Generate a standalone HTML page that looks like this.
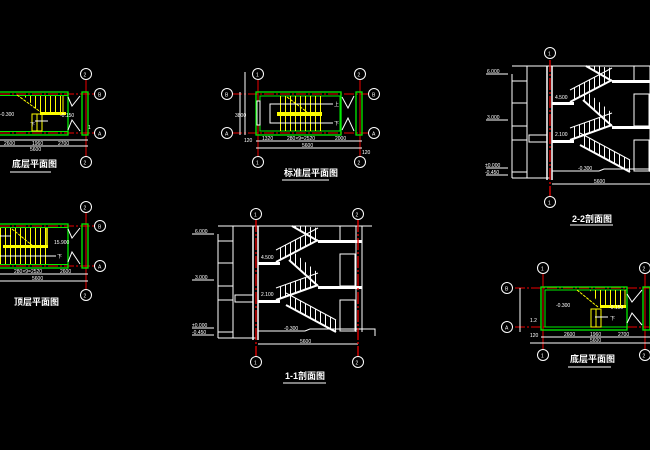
<!DOCTYPE html>
<html><head><meta charset="utf-8"><style>
html,body{margin:0;padding:0;background:#000;width:650px;height:450px;overflow:hidden}
svg{display:block}
text{font-family:"Liberation Sans","Noto Sans CJK SC",sans-serif;fill:#fff}
.t{font-size:9px;font-weight:bold}
.s{font-size:5px}
</style></head><body>
<svg width="650" height="450" viewBox="0 0 650 450" xmlns="http://www.w3.org/2000/svg">
<defs>
<pattern id="bal" width="5" height="10" patternUnits="userSpaceOnUse"><rect x="0" y="0" width="1" height="10" fill="#fff"/></pattern>
<pattern id="yel" width="5" height="10" patternUnits="userSpaceOnUse"><rect x="0" y="0" width="1" height="10" fill="#ff0"/></pattern>
<g id="circ"><circle r="5.5" fill="#000" stroke="#fff" stroke-width="1"/></g>
<!-- section body (1-1 coordinates) -->
<g id="sec" fill="none">
 <line x1="218" y1="226" x2="372" y2="226" stroke="#fff"/>
 <line x1="233" y1="226" x2="233" y2="338" stroke="#fff"/>
 <line x1="253" y1="226" x2="253" y2="340" stroke="#fff" stroke-width="1.5"/>
 <line x1="258" y1="226" x2="258" y2="340" stroke="#fff" stroke-width="1.5"/>
 <line x1="356" y1="226" x2="356" y2="332" stroke="#fff"/>
 <line x1="362" y1="226" x2="362" y2="332" stroke="#fff"/>
 <!-- landings -->
 <rect x="318" y="240" width="44" height="3" fill="#fff"/>
 <rect x="318" y="286" width="44" height="3" fill="#fff"/>
 <rect x="258" y="262" width="22" height="3" fill="#fff"/>
 <rect x="258" y="300" width="22" height="3" fill="#fff"/>
 <rect x="235" y="295" width="18" height="7" fill="none" stroke="#fff"/>
 <!-- doors -->
 <rect x="340" y="254" width="15" height="32" stroke="#fff"/>
 <rect x="340" y="300" width="15" height="31" stroke="#fff"/>
 <line x1="340" y1="226" x2="340" y2="240" stroke="#fff"/>
 <!-- flights -->
 <polygon points="292,226 318,240 318,228 302,226" fill="url(#bal)"/>
 <line x1="292" y1="226" x2="318" y2="241" stroke="#fff" stroke-width="2"/>
 <polygon points="276,262 318,240 318,228 276,250" fill="url(#bal)"/>
 <line x1="276" y1="262" x2="318" y2="240" stroke="#fff" stroke-width="2"/>
 <line x1="276" y1="250" x2="318" y2="228" stroke="#fff"/>
 <polygon points="289,260 318,285 318,273 289,248" fill="url(#bal)"/>
 <line x1="289" y1="260" x2="318" y2="286" stroke="#fff" stroke-width="2"/>
 <polygon points="276,300 318,285 318,273 276,288" fill="url(#bal)"/>
 <line x1="276" y1="300" x2="318" y2="285" stroke="#fff" stroke-width="2"/>
 <line x1="276" y1="288" x2="318" y2="273" stroke="#fff"/>
 <polygon points="286,305 336,332 336,320 286,293" fill="url(#bal)"/>
 <line x1="286" y1="305" x2="336" y2="332" stroke="#fff" stroke-width="2"/>
 <line x1="286" y1="293" x2="336" y2="320" stroke="#fff"/>
 <!-- ground -->
 <polyline points="258,331 305,331 310,329 375,329 375,336" stroke="#fff"/>
 <line x1="218" y1="338" x2="256" y2="338" stroke="#fff"/>
 <line x1="258" y1="344" x2="358" y2="344" stroke="#fff"/>
 <!-- level dims left -->
 <line x1="218" y1="234" x2="218" y2="338" stroke="#fff"/>
 <line x1="218" y1="241" x2="233" y2="241" stroke="#fff"/>
 <line x1="218" y1="263" x2="233" y2="263" stroke="#fff"/>
 <line x1="218" y1="286" x2="233" y2="286" stroke="#fff"/>
 <line x1="218" y1="300" x2="233" y2="300" stroke="#fff"/>
 <line x1="218" y1="332" x2="233" y2="332" stroke="#fff"/>
 <line x1="192" y1="234" x2="214" y2="234" stroke="#fff"/>
 <line x1="192" y1="280" x2="214" y2="280" stroke="#fff"/>
 <line x1="192" y1="328" x2="214" y2="328" stroke="#fff"/>
 <line x1="192" y1="335" x2="214" y2="335" stroke="#fff"/>
 <!-- red axes -->
 <line x1="256" y1="220" x2="256" y2="356" stroke="#e00" stroke-width="1.3" stroke-dasharray="12,2,2,2"/>
 <line x1="358" y1="220" x2="358" y2="356" stroke="#e00" stroke-width="1.3" stroke-dasharray="12,2,2,2"/>
</g>
</defs>

<!-- ========== TOP-LEFT PLAN 底层 ========== -->
<g fill="none">
 <line x1="0" y1="94" x2="95" y2="94" stroke="#e00" stroke-dasharray="10,2,2,2"/>
 <line x1="0" y1="133" x2="95" y2="133" stroke="#e00" stroke-dasharray="10,2,2,2"/>
 <line x1="86" y1="79" x2="86" y2="157" stroke="#e00"/>
 <rect x="-5" y="92" width="73" height="43" stroke="#0e0" stroke-width="1.3"/>
 <rect x="-5" y="95.5" width="73" height="36" stroke="#0e0"/>
 <rect x="82" y="92" width="6" height="43" stroke="#0e0" stroke-width="1.3"/>
 <polygon points="24,96 63,96 63,113 40,113" fill="url(#yel)"/>
 <line x1="17" y1="95" x2="42" y2="113" stroke="#ff0" stroke-dasharray="3,1"/>
 <rect x="40" y="112" width="26" height="3" fill="#ff0"/>
 <line x1="63" y1="96" x2="63" y2="113" stroke="#ff0"/>
 <rect x="32" y="114" width="10" height="17" stroke="#ff0"/>
 <line x1="37" y1="114" x2="37" y2="131" stroke="#ff0"/>
 <line x1="35" y1="121" x2="48" y2="121" stroke="#fff"/>
 <polyline points="68,97 72,106 80,96" stroke="#fff"/>
 <polyline points="68,130 72,120 80,131" stroke="#fff"/>
 <line x1="0" y1="140" x2="88" y2="140" stroke="#fff"/>
 <line x1="0" y1="146" x2="88" y2="146" stroke="#fff"/>
 <text x="30" y="126" class="s">下</text>
 <text x="0" y="116" class="s">-0.300</text>
 <text x="60" y="117" class="s">-0.150</text>
 <text x="4" y="145" class="s">2600</text>
 <text x="32" y="145" class="s">1960</text>
 <text x="58" y="145" class="s">2700</text>
 <text x="30" y="151" class="s">5600</text>
 <text x="88" y="129" class="s">1</text>
 <text x="12" y="167" class="t">底层平面图</text>
 <line x1="10" y1="172" x2="51" y2="172" stroke="#fff"/>
</g>
<use href="#circ" x="86" y="74"/><text x="83.5" y="76.5" class="s">2</text>
<use href="#circ" x="100" y="94"/><text x="98" y="96.5" class="s">B</text>
<use href="#circ" x="100" y="133"/><text x="98" y="135.5" class="s">A</text>
<use href="#circ" x="86" y="162"/><text x="83.5" y="164.5" class="s">2</text>

<!-- ========== BOTTOM-LEFT PLAN 顶层 ========== -->
<g fill="none">
 <line x1="0" y1="226" x2="95" y2="226" stroke="#e00" stroke-dasharray="10,2,2,2"/>
 <line x1="0" y1="266" x2="95" y2="266" stroke="#e00" stroke-dasharray="10,2,2,2"/>
 <line x1="86" y1="212" x2="86" y2="290" stroke="#e00"/>
 <rect x="-5" y="224" width="73" height="44" stroke="#0e0" stroke-width="1.3"/>
 <rect x="-5" y="227.5" width="73" height="37" stroke="#0e0"/>
 <rect x="82" y="224" width="6" height="44" stroke="#0e0" stroke-width="1.3"/>
 <rect x="0" y="228" width="47" height="36" fill="url(#yel)"/>
 <rect x="3" y="245" width="45" height="3" fill="#ff0"/>
 <line x1="47" y1="228" x2="47" y2="248" stroke="#ff0" stroke-width="1.5"/>
 <line x1="12" y1="229" x2="33" y2="246" stroke="#ff0" stroke-dasharray="3,1"/>
 <line x1="0" y1="236" x2="11" y2="236" stroke="#fff"/>
 <line x1="0" y1="256" x2="56" y2="256" stroke="#fff"/>
 <polyline points="68,229 72,238 80,228" stroke="#fff"/>
 <polyline points="68,262 72,252 80,264" stroke="#fff"/>
 <line x1="0" y1="274" x2="88" y2="274" stroke="#fff"/>
 <line x1="0" y1="281" x2="88" y2="281" stroke="#fff"/>
 <text x="57" y="258" class="s">下</text>
 <text x="54" y="244" class="s">15.900</text>
 <text x="14" y="273" class="s">280×9=2520</text>
 <text x="60" y="273" class="s">2600</text>
 <text x="32" y="280" class="s">5600</text>
 <text x="14" y="305" class="t">顶层平面图</text>
</g>
<use href="#circ" x="86" y="207"/><text x="83.5" y="209.5" class="s">2</text>
<use href="#circ" x="100" y="226"/><text x="98" y="228.5" class="s">B</text>
<use href="#circ" x="100" y="266"/><text x="98" y="268.5" class="s">A</text>
<use href="#circ" x="86" y="295"/><text x="83.5" y="297.5" class="s">2</text>

<!-- ========== STANDARD PLAN 标准层 ========== -->
<g fill="none">
 <line x1="232" y1="94" x2="369" y2="94" stroke="#e00" stroke-dasharray="10,2,2,2"/>
 <line x1="232" y1="133" x2="369" y2="133" stroke="#e00" stroke-dasharray="10,2,2,2"/>
 <line x1="258" y1="79" x2="258" y2="157" stroke="#e00"/>
 <line x1="360" y1="79" x2="360" y2="157" stroke="#e00"/>
 <rect x="256" y="92" width="85" height="43" stroke="#0e0" stroke-width="1.3"/>
 <rect x="260" y="96" width="80" height="35" stroke="#0e0"/>
 <rect x="356" y="92" width="6" height="43" stroke="#0e0" stroke-width="1.3"/>
 <rect x="257" y="101" width="3" height="24" fill="#000" stroke="#fff"/>
 <rect x="277" y="96" width="45" height="35" fill="url(#yel)"/>
 <rect x="277" y="112" width="45" height="4" fill="#ff0"/>
 <line x1="287" y1="97" x2="307" y2="112" stroke="#ff0" stroke-dasharray="3,1"/>
 <polyline points="333,104 270,104 270,123 333,123" stroke="#fff"/>
 <polyline points="342,97 348,108 354,96" stroke="#fff"/>
 <polyline points="342,130 348,118 354,131" stroke="#fff"/>
 <line x1="240" y1="92" x2="240" y2="135" stroke="#fff"/>
 <line x1="245" y1="72" x2="245" y2="135" stroke="#fff"/>
 <line x1="256" y1="141" x2="362" y2="141" stroke="#fff"/>
 <line x1="256" y1="148" x2="362" y2="148" stroke="#fff"/>
 <text x="334" y="106" class="s">上</text>
 <text x="334" y="125" class="s">下</text>
 <text x="244" y="142" class="s">120</text>
 <text x="262" y="140" class="s">1320</text>
 <text x="287" y="140" class="s">280×9=2520</text>
 <text x="335" y="140" class="s">2000</text>
 <text x="302" y="147" class="s">5600</text>
 <text x="362" y="154" class="s">120</text>
 <text x="235" y="117" class="s">3800</text>
 <text x="284" y="176" class="t">标准层平面图</text>
 <line x1="282" y1="180" x2="329" y2="180" stroke="#fff"/>
</g>
<use href="#circ" x="258" y="74"/><text x="256" y="76.5" class="s">1</text>
<use href="#circ" x="360" y="74"/><text x="357.5" y="76.5" class="s">2</text>
<use href="#circ" x="227" y="94"/><text x="225" y="96.5" class="s">B</text>
<use href="#circ" x="374" y="94"/><text x="372" y="96.5" class="s">B</text>
<use href="#circ" x="227" y="133"/><text x="225" y="135.5" class="s">A</text>
<use href="#circ" x="374" y="133"/><text x="372" y="135.5" class="s">A</text>
<use href="#circ" x="258" y="162"/><text x="256" y="164.5" class="s">1</text>
<use href="#circ" x="360" y="162"/><text x="357.5" y="164.5" class="s">2</text>

<!-- ========== 1-1 SECTION ========== -->
<use href="#sec"/>
<text x="195" y="233" class="s">6.000</text>
<text x="195" y="279" class="s">3.000</text>
<text x="192" y="327" class="s">±0.000</text>
<text x="192" y="334" class="s">-0.450</text>
<text x="261" y="259" class="s">4.500</text>
<text x="261" y="296" class="s">2.100</text>
<text x="284" y="330" class="s">-0.300</text>
<text x="300" y="343" class="s">5600</text>
<use href="#circ" x="256" y="214"/><text x="254" y="216.5" class="s">1</text>
<use href="#circ" x="358" y="214"/><text x="355.5" y="216.5" class="s">2</text>
<use href="#circ" x="256" y="362"/><text x="254" y="364.5" class="s">1</text>
<use href="#circ" x="358" y="362"/><text x="355.5" y="364.5" class="s">2</text>
<text x="285" y="379" class="t">1-1剖面图</text>
<line x1="283" y1="383" x2="326" y2="383" stroke="#fff"/>

<!-- ========== 2-2 SECTION ========== -->
<use href="#sec" transform="translate(294,-160)"/>
<text x="487" y="73" class="s">6.000</text>
<text x="487" y="119" class="s">3.000</text>
<text x="485" y="167" class="s">±0.000</text>
<text x="485" y="174" class="s">-0.450</text>
<text x="555" y="99" class="s">4.500</text>
<text x="555" y="136" class="s">2.100</text>
<text x="578" y="170" class="s">-0.300</text>
<text x="594" y="183" class="s">5600</text>
<use href="#circ" x="550" y="53"/><text x="548" y="55.5" class="s">1</text>
<use href="#circ" x="550" y="202"/><text x="548" y="204.5" class="s">1</text>
<text x="572" y="222" class="t">2-2剖面图</text>
<line x1="570" y1="225" x2="613" y2="225" stroke="#fff"/>

<!-- ========== BOTTOM-RIGHT PLAN 底层 ========== -->
<g fill="none">
 <line x1="515" y1="288" x2="650" y2="288" stroke="#e00" stroke-dasharray="10,2,2,2"/>
 <line x1="515" y1="327" x2="650" y2="327" stroke="#e00" stroke-dasharray="10,2,2,2"/>
 <line x1="543" y1="274" x2="543" y2="350" stroke="#e00"/>
 <line x1="645" y1="274" x2="645" y2="350" stroke="#e00"/>
 <rect x="541" y="287" width="86" height="43" stroke="#0e0" stroke-width="1.3"/>
 <rect x="545" y="290" width="82" height="37" stroke="#0e0"/>
 <rect x="643" y="287" width="7" height="43" stroke="#0e0" stroke-width="1.3"/>
 <polygon points="590,290 625,290 625,306 600,306" fill="url(#yel)"/>
 <line x1="577" y1="290" x2="598" y2="307" stroke="#ff0" stroke-dasharray="3,1"/>
 <rect x="600" y="305" width="26" height="3" fill="#ff0"/>
 <line x1="625" y1="290" x2="625" y2="306" stroke="#ff0"/>
 <rect x="591" y="309" width="10" height="18" stroke="#ff0"/>
 <line x1="596" y1="309" x2="596" y2="327" stroke="#ff0"/>
 <line x1="595" y1="317" x2="608" y2="317" stroke="#fff"/>
 <polyline points="627,294 632,302 642,290" stroke="#fff"/>
 <polyline points="627,323 632,313 642,325" stroke="#fff"/>
 <line x1="520" y1="288" x2="520" y2="332" stroke="#fff"/>
 <line x1="541" y1="337" x2="650" y2="337" stroke="#fff"/>
 <line x1="530" y1="343" x2="650" y2="343" stroke="#fff"/>
 <text x="556" y="307" class="s">-0.300</text>
 <text x="609" y="309" class="s">-0.150</text>
 <text x="610" y="320" class="s">下</text>
 <text x="530" y="322" class="s">1.2</text>
 <text x="530" y="337" class="s">120</text>
 <text x="564" y="336" class="s">2600</text>
 <text x="590" y="336" class="s">1960</text>
 <text x="618" y="336" class="s">2700</text>
 <text x="590" y="342" class="s">5600</text>
 <text x="570" y="362" class="t">底层平面图</text>
 <line x1="568" y1="367" x2="611" y2="367" stroke="#fff"/>
</g>
<use href="#circ" x="543" y="268"/><text x="541" y="270.5" class="s">1</text>
<use href="#circ" x="645" y="268"/><text x="642.5" y="270.5" class="s">2</text>
<use href="#circ" x="507" y="288"/><text x="505" y="290.5" class="s">B</text>
<use href="#circ" x="507" y="327"/><text x="505" y="329.5" class="s">A</text>
<use href="#circ" x="543" y="355"/><text x="541" y="357.5" class="s">1</text>
<use href="#circ" x="645" y="355"/><text x="642.5" y="357.5" class="s">2</text>
</svg>
</body></html>
